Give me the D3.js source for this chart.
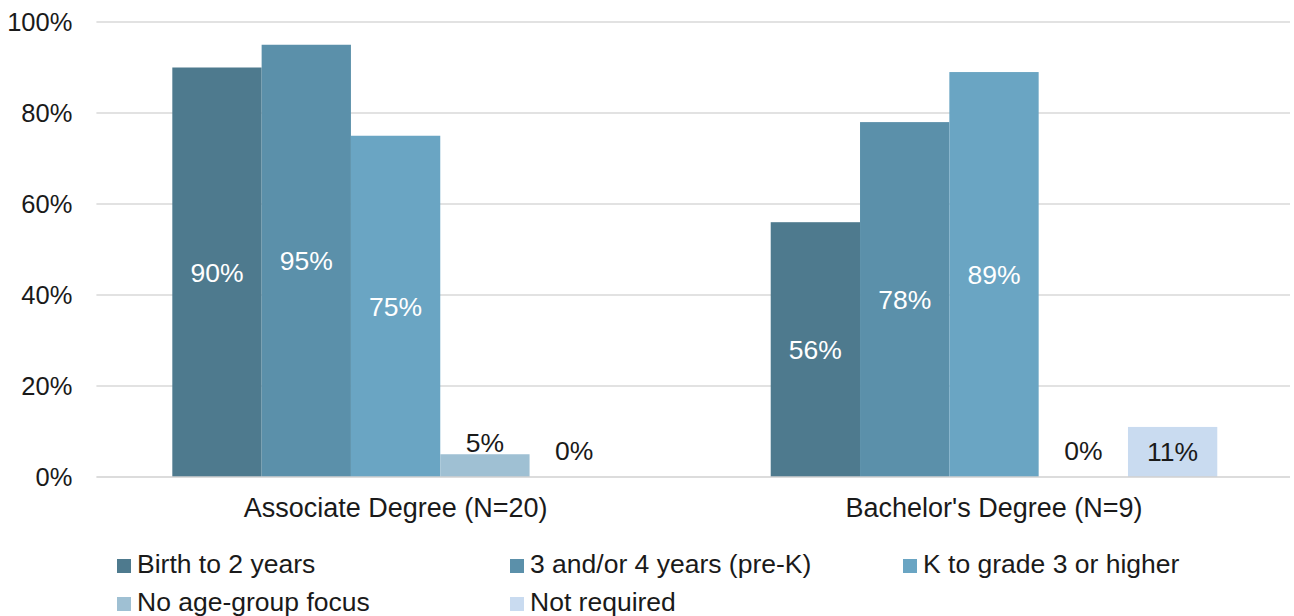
<!DOCTYPE html>
<html><head><meta charset="utf-8">
<script src="https://cdn.jsdelivr.net/npm/d3@7"></script>
<style>html,body{margin:0;padding:0;background:#fff;}svg{display:block;font-family:"Liberation Sans",Arial,sans-serif;}</style>
</head><body>
<svg id="chart" width="1294" height="616"></svg>
<script>
const categories = ["Associate Degree (N=20)", "Bachelor's Degree (N=9)"];
const seriesNames = ["Birth to 2 years", "3 and/or 4 years (pre-K)", "K to grade 3 or higher", "No age-group focus", "Not required"];
const seriesColors = ["#4e7a8e", "#5b90aa", "#6aa5c3", "#9fc0d3", "#c9dbf0"];
const labelColors = ["#ffffff", "#ffffff", "#ffffff", "#1a1a1a", "#1a1a1a"];
const birthTo2 = [0.90, 0.56];
const preK = [0.95, 0.78];
const kToGrade3 = [0.75, 0.89];
const noFocus = [0.05, 0.00];
const notRequired = [0.00, 0.11];
const yTicks = [0, 0.2, 0.4, 0.6, 0.8, 1.0];

const seriesValues = [birthTo2, preK, kToGrade3, noFocus, notRequired];

const svg = d3.select("#chart");
const plotLeft = 96.4, plotRight = 1293.2, plotTop = 22, plotBottom = 477;

const x0 = d3.scaleBand().domain(categories).range([plotLeft, plotRight]).padding(0);
const x1 = d3.scaleBand().domain(seriesNames).range([0, x0.bandwidth()]).paddingInner(0).paddingOuter(0.85);
const y = d3.scaleLinear().domain([0, 1]).range([plotBottom, plotTop]);

// gridlines
svg.append("g").selectAll("line").data(yTicks.filter(t => t > 0)).join("line")
  .attr("x1", plotLeft).attr("x2", 1290)
  .attr("y1", d => y(d)).attr("y2", d => y(d))
  .attr("stroke", "#d9d9d9").attr("stroke-width", 1.3);

// y axis labels
const yAxis = d3.axisLeft(y).tickValues(yTicks).tickFormat(d3.format(".0%")).tickSize(0).tickPadding(24);
const ya = svg.append("g").attr("transform", `translate(${plotLeft},0)`).call(yAxis);
ya.select(".domain").remove();
ya.selectAll("text").attr("font-size", 25.5).attr("fill", "#1a1a1a").attr("font-family", "Liberation Sans, Arial, sans-serif").attr("dy", "0.35em");

// bars
const groups = svg.append("g").selectAll("g").data(categories).join("g")
  .attr("transform", d => `translate(${x0(d)},0)`);

groups.each(function(cat, ci) {
  const g = d3.select(this);
  seriesNames.forEach((s, si) => {
    const v = seriesValues[si][ci];
    const bx = x1(s), bw = x1.bandwidth();
    if (v > 0) {
      g.append("rect").attr("x", bx).attr("y", y(v)).attr("width", bw).attr("height", y(0) - y(v))
        .attr("fill", seriesColors[si]);
    }
    const h = y(0) - y(v);
    const t = g.append("text").attr("x", bx + bw / 2).attr("text-anchor", "middle")
      .attr("font-size", 26.5).text(d3.format(".0%")(v));
    if (h >= 30) {
      t.attr("y", (y(v) + y(0)) / 2).attr("dy", "0.35em").attr("fill", labelColors[si]);
    } else {
      t.attr("y", Math.min(y(v) - 2, y(0) - 17)).attr("fill", "#1a1a1a");
    }
  });
});

// x axis line
svg.append("line").attr("x1", plotLeft).attr("x2", 1290).attr("y1", y(0)).attr("y2", y(0))
  .attr("stroke", "#d0d0d0").attr("stroke-width", 1.3);

// category labels
const xAxis = d3.axisBottom(x0).tickSize(0).tickPadding(0);
const xa = svg.append("g").attr("transform", `translate(0,${y(0)})`).call(xAxis);
xa.select(".domain").remove();
xa.selectAll("text").attr("font-size", 27).attr("fill", "#1a1a1a").attr("font-family", "Liberation Sans, Arial, sans-serif")
  .attr("y", 40).attr("dy", 0);

// legend
const legendCols = [117, 510, 903];
const legendRows = [573, 611];
const legend = svg.append("g").selectAll("g").data(seriesNames).join("g")
  .attr("transform", (d, i) => `translate(${legendCols[i % 3]},${legendRows[Math.floor(i / 3)]})`);
legend.append("rect").attr("x", 0).attr("y", -14).attr("width", 14).attr("height", 14)
  .attr("fill", (d, i) => seriesColors[i]);
legend.append("text").attr("x", 20).attr("y", 0).attr("font-size", 26.5).attr("fill", "#1a1a1a").text(d => d);
</script>
</body></html>
